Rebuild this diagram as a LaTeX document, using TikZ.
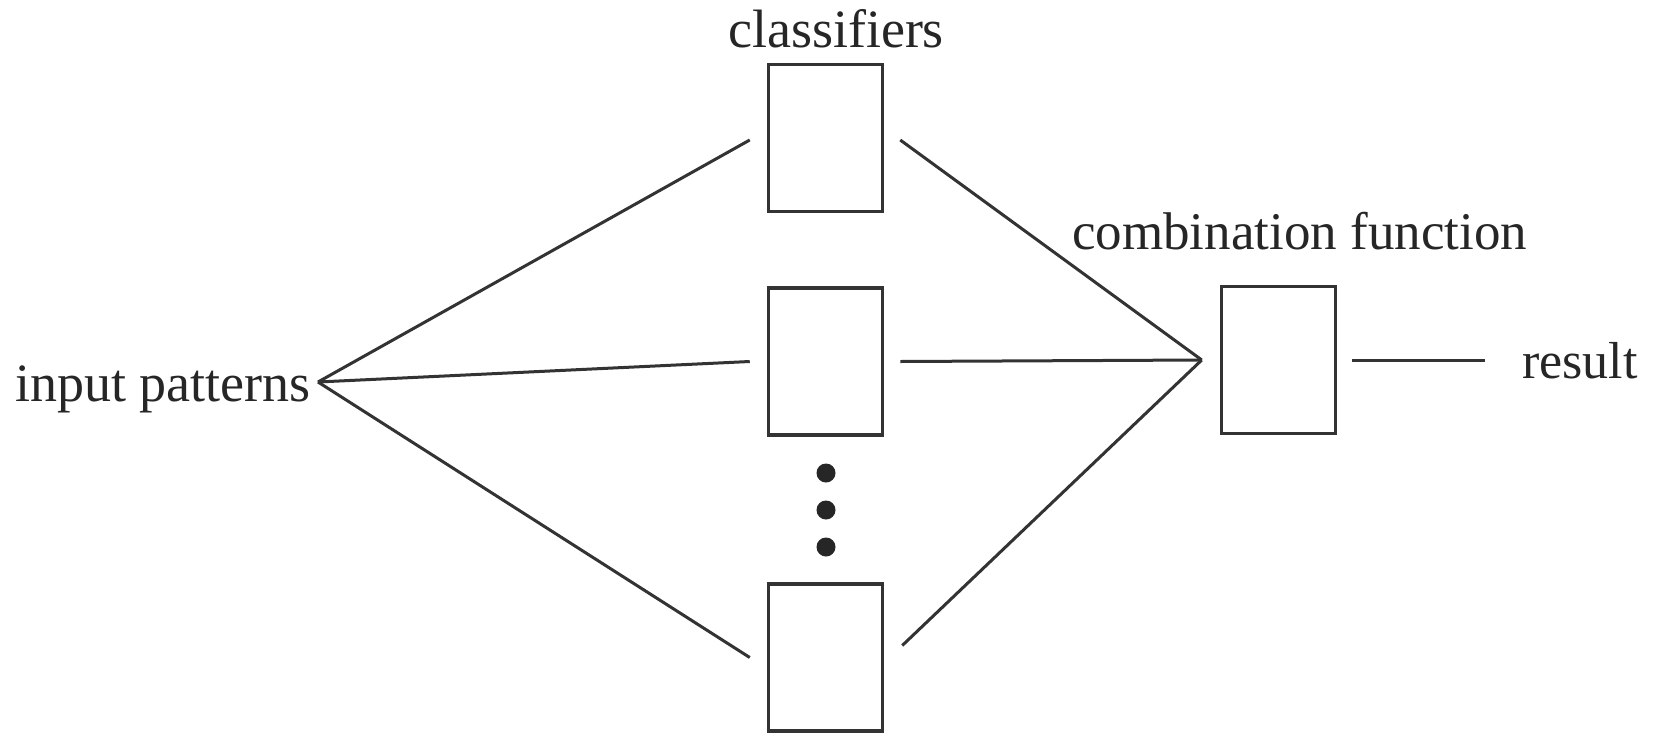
\documentclass[tikz,border=0pt]{standalone}
\usepackage{fontspec}
\setmainfont{Liberation Serif}
\begin{document}
\begin{tikzpicture}[x=1pt,y=-1pt,
  blk/.style={draw=black!80,line width=3.5pt,minimum width=114pt,minimum height=147pt,inner sep=0pt,fill=white},
  conn/.style={draw=black!80,line width=3pt},
  lbl/.style={inner sep=0pt,text=black!85,font=\fontsize{54}{64}\selectfont},
  dot/.style={circle,fill=black!85,minimum size=19pt,inner sep=0pt}]
\useasboundingbox[fill=white] (0,0) rectangle (1659,734);
\node[blk] (b1) at (825.5,138) {};
\node[blk] (b2) at (825.5,361.5) {};
\node[blk] (b3) at (825.5,657.5) {};
\node[blk] (b4) at (1278.5,360) {};
\node[dot] (d1) at (826,473) {};
\node[dot] (d2) at (826,510) {};
\node[dot] (d3) at (826,547) {};
\node[lbl,anchor=base] (cls) at (836,47) {classifiers};
\node[lbl,anchor=base west,font=\fontsize{53}{64}\selectfont] (comb) at (1072,249) {combination function};
\node[lbl,anchor=base west,font=\fontsize{52}{62}\selectfont] (res) at (1522,378) {result};
\node[lbl,anchor=base west] (inp) at (15,401) {input patterns};
\coordinate (ip) at (318,382);
\coordinate (cf) at ([xshift=-18pt]b4.west);
\draw[conn] (ip) -- ([xshift=-17pt,yshift=-2pt]b1.west);
\draw[conn] (ip) -- ([xshift=-17pt]b2.west);
\draw[conn] (ip) -- ([xshift=-17pt]b3.west);
\draw[conn] ([xshift=16pt,yshift=-2pt]b1.east) -- (cf);
\draw[conn] ([xshift=16pt]b2.east) -- (cf);
\draw[conn] ([xshift=18pt,yshift=12pt]b3.east) -- (cf);
\draw[conn] ([xshift=15pt]b4.east) -- ([xshift=-37pt]res.west |- b4.east);
\end{tikzpicture}
\end{document}
